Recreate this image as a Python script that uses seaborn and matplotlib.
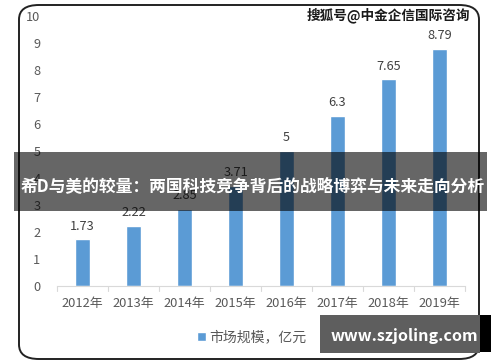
import matplotlib
matplotlib.use("Agg")
import matplotlib.pyplot as plt
import seaborn as sns
import pandas as pd
from matplotlib.patches import FancyBboxPatch, Rectangle

# data
years = ["2012年", "2013年", "2014年", "2015年", "2016年", "2017年", "2018年", "2019年"]
values = [1.73, 2.22, 2.85, 3.71, 5, 6.3, 7.65, 8.79]
value_labels = ["1.73", "2.22", "2.85", "3.71", "5", "6.3", "7.65", "8.79"]
series_name = "市场规模，亿元"
banner = "希D与美的较量：两国科技竞争背后的战略博弈与未来走向分析"
top_mark = "搜狐号@中金企信国际咨询"
bottom_mark = "www.szjoling.com"

sns.set_style("white")
plt.rcParams["font.family"] = ["Noto Sans CJK SC", "DejaVu Sans"]

df = pd.DataFrame({"year": years, "value": values})

fig = plt.figure(figsize=(5, 3.62), dpi=100)
W, H = 500, 362

# rounded border
fig.patches.append(FancyBboxPatch((19 / W, 3 / H), 460 / W, 354 / H,
                                  boxstyle="round,pad=0,rounding_size=0.04",
                                  transform=fig.transFigure, fill=False,
                                  edgecolor="#222222", linewidth=1.4))

ax = fig.add_axes([57 / W, (H - 286) / H, 408 / W, 270 / H])
sns.barplot(data=df, x="year", y="value", color="#5B9BD5", width=0.31,
            saturation=1, ax=ax, label=series_name)
ax.set_ylim(0, 10)
ax.set_xlim(-0.5, len(years) - 0.5)
ax.set_yticks(range(0, 11))
ax.set_xlabel("")
ax.set_ylabel("")
for s in ["top", "right", "left"]:
    ax.spines[s].set_visible(False)
ax.spines["bottom"].set_color("#d9d9d9")
ax.tick_params(axis="y", length=0, labelsize=9.2, labelcolor="#595959", pad=12)
ax.tick_params(axis="x", length=0, labelsize=9.3, labelcolor="#595959", pad=8)
for b in range(len(years) + 1):
    ax.plot([b - 0.5, b - 0.5], [0, -0.17], color="#d9d9d9", lw=0.8,
            clip_on=False)

for i, (v, t) in enumerate(zip(values, value_labels)):
    ax.text(i, v + 0.25, t, ha="center", va="bottom", fontsize=9.2,
            color="#404040")

leg = ax.legend(loc="center", bbox_to_anchor=(252 / W, (H - 337) / H),
                bbox_transform=fig.transFigure, frameon=False, fontsize=10,
                handlelength=0.6, handleheight=0.6, handletextpad=0.3)
for t in leg.get_texts():
    t.set_color("#595959")

# overlays
fig.text(470 / W, (H - 15) / H, top_mark, ha="right", va="center",
         fontsize=9.8, fontweight="bold", color="#1a1a1a")
fig.patches.append(Rectangle((14 / W, (H - 211) / H), 473 / W, 59 / H,
                             transform=fig.transFigure, facecolor="black",
                             alpha=0.6, edgecolor="none"))
fig.text(485 / W, (H - 186) / H, banner, ha="right", va="center",
         fontsize=12.1, fontweight="bold", color="white")
fig.patches.append(Rectangle((480 / W, (H - 352) / H), 11 / W, 37 / H,
                             transform=fig.transFigure, facecolor="black",
                             edgecolor="none"))
fig.patches.append(Rectangle((320 / W, (H - 353) / H), 160 / W, 38 / H,
                             transform=fig.transFigure, facecolor="#5e5e5e",
                             edgecolor="none"))
fig.text(404 / W, (H - 336) / H, bottom_mark, ha="center", va="center",
         fontsize=11.6, fontweight="bold", color="white")

fig.savefig("out.png", dpi=100)
